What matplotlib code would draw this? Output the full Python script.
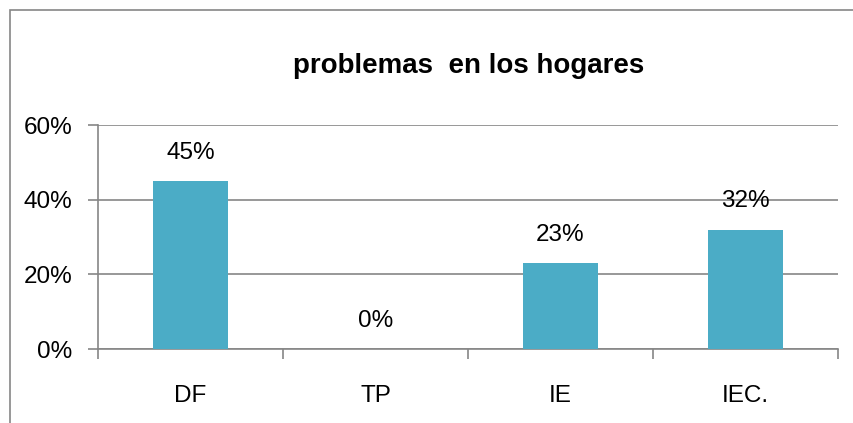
import matplotlib
matplotlib.use("Agg")
import matplotlib.pyplot as plt
from matplotlib.patches import Rectangle

categories = ["DF", "TP", "IE", "IEC."]
values = [45, 0, 23, 32]
labels = ["45%", "0%", "23%", "32%"]
yticks = [0, 20, 40, 60]
ytick_labels = ["0%", "20%", "40%", "60%"]
title = "problemas  en los hogares"

W, H = 854, 423
plt.rcParams['font.family'] = ['Liberation Sans', 'DejaVu Sans']
fig = plt.figure(figsize=(W / 100, H / 100), dpi=100)

# chart border (left & top visible)
fig.patches.append(Rectangle((10 / W, -0.1), 1.2, (H - 10) / H + 0.1,
                             transform=fig.transFigure, fill=False,
                             edgecolor="#868686", linewidth=1.2))

ax = fig.add_axes([98 / W, 1 - 349 / H, (838 - 98) / W, (349 - 125) / H])
x = list(range(len(categories)))
ax.bar(x, values, width=0.405, color="#4BACC6", zorder=3)
for xi, v, lab in zip(x, values, labels):
    ax.text(xi, v + 4.6, lab, ha="center", va="bottom", fontsize=17.5, color="black")

ax.set_xlim(-0.5, len(categories) - 0.5)
ax.set_ylim(0, 60)
ax.set_yticks(yticks)
ax.set_yticklabels(ytick_labels, fontsize=17.5)
ax.set_xticks(x)
ax.set_xticklabels(categories, fontsize=17.5)
ax.tick_params(axis="x", length=0, pad=26)
ax.set_xticks([i - 0.5 for i in range(len(categories) + 1)], minor=True)
ax.tick_params(axis="x", which="minor", length=7.2, color="#868686", width=1.2)
ax.tick_params(axis="y", length=7.2, color="#868686", width=1.2, pad=11)
ax.yaxis.grid(True, color="#868686", linewidth=1.2, zorder=0)
for s in ["top", "right"]:
    ax.spines[s].set_visible(False)
for s in ["left", "bottom"]:
    ax.spines[s].set_color("#868686")
    ax.spines[s].set_linewidth(1.2)

fig.text(469 / W, 1 - 73 / H, title, ha="center", va="baseline",
         fontsize=20, fontweight="bold")

fig.savefig("out.png", dpi=100)
